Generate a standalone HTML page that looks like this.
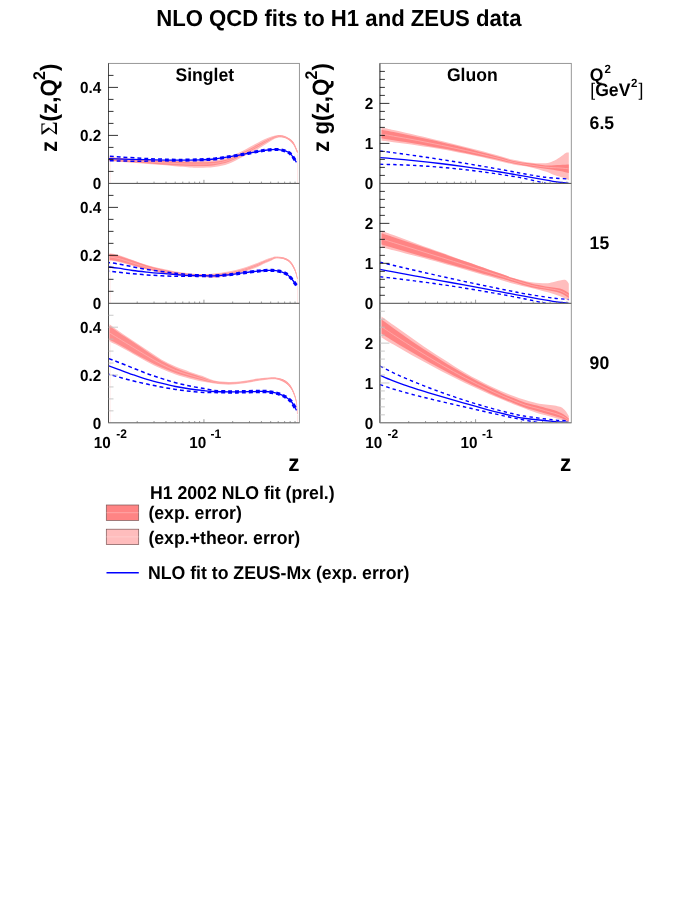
<!DOCTYPE html>
<html><head><meta charset="utf-8"><title>NLO QCD fits</title>
<style>
html,body{margin:0;padding:0;background:#fff;}
body{width:698px;height:903px;position:relative;overflow:hidden;font-family:"Liberation Sans",sans-serif;}
.t{position:absolute;white-space:nowrap;font-weight:bold;color:#000;line-height:1;font-family:"Liberation Sans",sans-serif;}
</style></head><body>
<svg width="698" height="903" viewBox="0 0 698 903" style="position:absolute;left:0;top:0">
<defs>
<clipPath id="cl0"><rect x="108.50" y="63.40" width="190.90" height="120.00"/></clipPath>
<clipPath id="cr0"><rect x="379.90" y="63.40" width="191.40" height="120.00"/></clipPath>
<clipPath id="cl1"><rect x="108.50" y="183.40" width="190.90" height="119.90"/></clipPath>
<clipPath id="cr1"><rect x="379.90" y="183.40" width="191.40" height="119.90"/></clipPath>
<clipPath id="cl2"><rect x="108.50" y="303.30" width="190.90" height="119.50"/></clipPath>
<clipPath id="cr2"><rect x="379.90" y="303.30" width="191.40" height="119.50"/></clipPath>
</defs>
<g clip-path="url(#cl0)">
<path d="M109.50 157.20C112.08 157.38 119.92 157.95 125.00 158.30C130.08 158.65 135.00 159.02 140.00 159.30C145.00 159.58 150.00 159.80 155.00 160.00C160.00 160.20 165.00 160.37 170.00 160.50C175.00 160.63 180.00 160.78 185.00 160.80C190.00 160.82 195.12 160.72 200.00 160.60C204.88 160.48 209.52 160.67 214.30 160.10C219.08 159.53 223.92 158.75 228.70 157.20C233.48 155.65 238.23 153.18 243.00 150.80C247.77 148.42 253.72 144.82 257.30 142.90C260.88 140.98 262.12 140.37 264.50 139.30C266.88 138.23 269.22 137.22 271.60 136.50C273.98 135.78 276.40 135.00 278.80 135.00C281.20 135.00 283.63 135.42 286.00 136.50C288.37 137.58 291.08 139.12 293.00 141.50C294.92 143.88 296.75 149.25 297.50 150.80L297.50 153.60C296.75 152.05 294.92 146.80 293.00 144.30C291.08 141.80 288.37 139.72 286.00 138.60C283.63 137.48 281.20 137.28 278.80 137.60C276.40 137.92 273.98 139.27 271.60 140.50C269.22 141.73 266.88 143.52 264.50 145.00C262.12 146.48 260.88 147.43 257.30 149.40C253.72 151.37 247.77 154.42 243.00 156.80C238.23 159.18 233.48 162.00 228.70 163.70C223.92 165.40 219.08 166.33 214.30 167.00C209.52 167.67 204.05 167.62 200.00 167.70C195.95 167.78 195.00 167.82 190.00 167.50C185.00 167.18 175.83 166.28 170.00 165.80C164.17 165.32 160.00 165.03 155.00 164.60C150.00 164.17 145.00 163.60 140.00 163.20C135.00 162.80 130.08 162.53 125.00 162.20C119.92 161.87 112.08 161.37 109.50 161.20Z" fill="#ffbdbd"/>
<path d="M109.50 157.60C112.08 157.78 119.92 158.34 125.00 158.69C130.08 159.04 135.00 159.37 140.00 159.69C145.00 160.01 150.00 160.33 155.00 160.61C160.00 160.88 165.00 161.13 170.00 161.37C175.00 161.60 180.00 161.88 185.00 162.02C190.00 162.16 195.12 162.23 200.00 162.21C204.88 162.18 209.52 162.40 214.30 161.87C219.08 161.35 223.92 160.62 228.70 159.07C233.48 157.51 238.23 154.92 243.00 152.54C247.77 150.16 253.72 146.72 257.30 144.78C260.88 142.85 262.12 142.14 264.50 140.95C266.88 139.77 269.22 138.56 271.60 137.66C273.98 136.76 276.40 135.70 278.80 135.55C281.20 135.40 283.63 135.71 286.00 136.76C288.37 137.81 291.08 139.45 293.00 141.85C294.92 144.25 296.75 149.60 297.50 151.15L297.50 153.25C296.75 151.70 294.92 146.44 293.00 143.95C291.08 141.46 288.37 139.49 286.00 138.34C283.63 137.19 281.20 136.89 278.80 137.05C276.40 137.22 273.98 138.29 271.60 139.34C269.22 140.39 266.88 141.98 264.50 143.35C262.12 144.71 260.88 145.56 257.30 147.52C253.72 149.47 247.77 152.67 243.00 155.06C238.23 157.45 233.48 160.14 228.70 161.83C223.92 163.53 219.08 164.52 214.30 165.23C209.52 165.94 204.88 165.99 200.00 166.09C195.12 166.19 190.00 166.04 185.00 165.85C180.00 165.66 175.00 165.24 170.00 164.93C165.00 164.62 160.00 164.35 155.00 163.99C150.00 163.64 145.00 163.17 140.00 162.81C135.00 162.45 130.08 162.15 125.00 161.81C119.92 161.47 112.08 160.97 109.50 160.80Z" fill="#ff8c8c"/>
<path d="M109.50 159.20C112.08 159.38 119.92 159.91 125.00 160.25C130.08 160.59 135.00 160.91 140.00 161.25C145.00 161.59 150.00 161.98 155.00 162.30C160.00 162.62 165.00 162.88 170.00 163.15C175.00 163.42 180.00 163.77 185.00 163.94C190.00 164.10 195.12 164.21 200.00 164.15C204.88 164.09 209.52 164.17 214.30 163.55C219.08 162.93 223.92 162.07 228.70 160.45C233.48 158.82 238.23 156.18 243.00 153.80C247.77 151.42 253.72 148.09 257.30 146.15C260.88 144.21 262.12 143.43 264.50 142.15C266.88 140.88 269.22 139.47 271.60 138.50C273.98 137.53 276.40 136.46 278.80 136.30C281.20 136.14 283.63 136.45 286.00 137.55C288.37 138.65 291.08 140.46 293.00 142.90C294.92 145.34 296.75 150.65 297.50 152.20" fill="none" stroke="#ffb4b4" stroke-width="0.7"/>
<path d="M297.50 153.60 L297.50 183.40" stroke="#ffe2e2" stroke-width="0.8" fill="none"/>
<path d="M110.20 161.20 L110.20 183.40" stroke="#ffe8e8" stroke-width="0.8" fill="none"/>
<path d="M165.00 159.22C162.50 159.13 155.00 158.92 150.00 158.70C145.00 158.48 140.00 158.20 135.00 157.90C130.00 157.60 124.50 157.22 120.00 156.90C115.50 156.58 110.00 156.15 108.00 156.00" fill="none" stroke="#0000ff" stroke-width="1.5" stroke-dasharray="3.9 3.0" stroke-dashoffset="3.9"/>
<path d="M165.00 160.82C162.50 160.87 155.00 161.04 150.00 161.10C145.00 161.16 140.00 161.22 135.00 161.20C130.00 161.18 124.50 161.08 120.00 161.00C115.50 160.92 110.00 160.75 108.00 160.70" fill="none" stroke="#0000ff" stroke-width="1.5" stroke-dasharray="3.9 3.0" stroke-dashoffset="3.9"/>
<path d="M165.00 160.02C167.50 160.05 174.17 160.24 180.00 160.20C185.83 160.16 194.28 160.00 200.00 159.80C205.72 159.60 209.52 159.50 214.30 159.00C219.08 158.50 223.92 157.57 228.70 156.80C233.48 156.03 238.23 155.28 243.00 154.40C247.77 153.52 253.72 152.17 257.30 151.50C260.88 150.83 262.12 150.72 264.50 150.40C266.88 150.08 269.22 149.73 271.60 149.60C273.98 149.47 276.40 149.33 278.80 149.60C281.20 149.87 283.97 150.40 286.00 151.20C288.03 152.00 289.27 152.55 291.00 154.40C292.73 156.25 295.50 160.98 296.40 162.30" fill="none" stroke="#0000ff" stroke-width="3.1" stroke-dasharray="3.9 3.0"/>
<path d="M108.00 158.70C111.67 158.80 122.17 159.10 130.00 159.30C137.83 159.50 146.67 159.75 155.00 159.90C163.33 160.05 172.50 160.22 180.00 160.20C187.50 160.18 194.28 160.00 200.00 159.80C205.72 159.60 209.52 159.50 214.30 159.00C219.08 158.50 223.92 157.57 228.70 156.80C233.48 156.03 238.23 155.28 243.00 154.40C247.77 153.52 253.72 152.17 257.30 151.50C260.88 150.83 262.12 150.72 264.50 150.40C266.88 150.08 269.22 149.73 271.60 149.60C273.98 149.47 276.40 149.33 278.80 149.60C281.20 149.87 283.97 150.40 286.00 151.20C288.03 152.00 289.27 152.55 291.00 154.40C292.73 156.25 295.50 160.98 296.40 162.30" fill="none" stroke="#0000ff" stroke-width="1.3"/>
</g>
<g clip-path="url(#cl1)">
<path d="M109.50 253.30C110.97 253.58 114.43 253.88 118.30 255.00C122.17 256.12 127.92 258.32 132.70 260.00C137.48 261.68 142.23 263.67 147.00 265.10C151.77 266.53 156.53 267.53 161.30 268.60C166.07 269.67 170.82 270.70 175.60 271.50C180.38 272.30 185.27 272.98 190.00 273.40C194.73 273.82 199.95 274.00 204.00 274.00C208.05 274.00 210.18 273.82 214.30 273.40C218.42 272.98 223.92 272.42 228.70 271.50C233.48 270.58 238.23 269.33 243.00 267.90C247.77 266.47 253.72 264.22 257.30 262.90C260.88 261.58 262.12 260.88 264.50 260.00C266.88 259.12 269.68 258.18 271.60 257.60C273.52 257.02 274.10 256.57 276.00 256.50C277.90 256.43 280.67 256.48 283.00 257.20C285.33 257.92 288.00 258.90 290.00 260.80C292.00 262.70 293.75 265.73 295.00 268.60C296.25 271.47 297.08 276.43 297.50 278.00L297.50 280.00C297.08 278.58 296.25 274.35 295.00 271.50C293.75 268.65 292.00 264.98 290.00 262.90C288.00 260.82 285.33 259.72 283.00 259.00C280.67 258.28 277.90 258.35 276.00 258.60C274.10 258.85 273.52 259.67 271.60 260.50C269.68 261.33 266.88 262.48 264.50 263.60C262.12 264.72 260.88 265.77 257.30 267.20C253.72 268.63 247.77 270.77 243.00 272.20C238.23 273.63 233.48 274.88 228.70 275.80C223.92 276.72 218.42 277.47 214.30 277.70C210.18 277.93 208.05 277.35 204.00 277.20C199.95 277.05 194.73 277.15 190.00 276.80C185.27 276.45 180.38 275.75 175.60 275.10C170.82 274.45 166.07 273.82 161.30 272.90C156.53 271.98 151.77 270.78 147.00 269.60C142.23 268.42 137.48 267.08 132.70 265.80C127.92 264.52 122.17 262.73 118.30 261.90C114.43 261.07 110.97 260.98 109.50 260.80Z" fill="#ffbdbd"/>
<path d="M109.50 254.05C110.97 254.32 114.43 254.60 118.30 255.69C122.17 256.78 127.92 258.93 132.70 260.58C137.48 262.23 142.23 264.18 147.00 265.62C151.77 267.06 156.53 268.14 161.30 269.22C166.07 270.31 170.82 271.32 175.60 272.13C180.38 272.94 185.27 273.66 190.00 274.10C194.73 274.54 199.95 274.68 204.00 274.75C208.05 274.82 210.18 274.84 214.30 274.50C218.42 274.17 223.92 273.63 228.70 272.74C233.48 271.84 238.23 270.58 243.00 269.15C247.77 267.72 253.72 265.50 257.30 264.15C260.88 262.80 262.12 261.99 264.50 261.04C266.88 260.09 269.68 259.11 271.60 258.44C273.52 257.77 274.10 257.17 276.00 257.01C277.90 256.85 280.67 256.81 283.00 257.49C285.33 258.16 288.00 259.15 290.00 261.06C292.00 262.97 293.75 266.10 295.00 268.96C296.25 271.83 297.08 276.70 297.50 278.25L297.50 279.75C297.08 278.31 296.25 273.99 295.00 271.14C293.75 268.29 292.00 264.71 290.00 262.64C288.00 260.57 285.33 259.47 283.00 258.71C280.67 257.95 277.90 257.93 276.00 258.09C274.10 258.25 273.52 258.91 271.60 259.66C269.68 260.40 266.88 261.51 264.50 262.56C262.12 263.61 260.88 264.55 257.30 265.95C253.72 267.35 247.77 269.52 243.00 270.95C238.23 272.39 233.48 273.62 228.70 274.56C223.92 275.51 218.42 276.28 214.30 276.60C210.18 276.91 208.05 276.53 204.00 276.45C199.95 276.37 194.73 276.43 190.00 276.10C185.27 275.77 180.38 275.11 175.60 274.47C170.82 273.83 166.07 273.17 161.30 272.28C156.53 271.38 151.77 270.26 147.00 269.08C142.23 267.91 137.48 266.53 132.70 265.22C127.92 263.91 122.17 262.07 118.30 261.21C114.43 260.35 110.97 260.24 109.50 260.05Z" fill="#ff8c8c"/>
<path d="M109.50 257.05C110.97 257.28 114.43 257.48 118.30 258.45C122.17 259.42 127.92 261.42 132.70 262.90C137.48 264.38 142.23 266.04 147.00 267.35C151.77 268.66 156.53 269.76 161.30 270.75C166.07 271.74 170.82 272.57 175.60 273.30C180.38 274.03 185.27 274.72 190.00 275.10C194.73 275.48 199.95 275.53 204.00 275.60C208.05 275.68 210.18 275.87 214.30 275.55C218.42 275.22 223.92 274.57 228.70 273.65C233.48 272.73 238.23 271.48 243.00 270.05C247.77 268.62 253.72 266.42 257.30 265.05C260.88 263.67 262.12 262.80 264.50 261.80C266.88 260.80 269.68 259.76 271.60 259.05C273.52 258.34 274.10 257.71 276.00 257.55C277.90 257.39 280.67 257.38 283.00 258.10C285.33 258.82 288.00 259.86 290.00 261.85C292.00 263.84 293.75 267.19 295.00 270.05C296.25 272.91 297.08 277.51 297.50 279.00" fill="none" stroke="#ffb4b4" stroke-width="0.7"/>
<path d="M297.50 280.00 L297.50 303.30" stroke="#ffe2e2" stroke-width="0.8" fill="none"/>
<path d="M110.20 260.80 L110.20 303.30" stroke="#ffe8e8" stroke-width="0.8" fill="none"/>
<path d="M188.00 274.51C185.93 274.29 180.05 273.72 175.60 273.20C171.15 272.68 166.07 272.03 161.30 271.40C156.53 270.77 151.77 270.17 147.00 269.40C142.23 268.63 137.48 267.72 132.70 266.80C127.92 265.88 122.42 264.62 118.30 263.90C114.18 263.18 109.72 262.73 108.00 262.50" fill="none" stroke="#0000ff" stroke-width="1.5" stroke-dasharray="3.9 3.0" stroke-dashoffset="3.9"/>
<path d="M188.00 276.21C185.93 276.23 180.05 276.37 175.60 276.30C171.15 276.23 166.07 276.03 161.30 275.80C156.53 275.57 151.77 275.25 147.00 274.90C142.23 274.55 137.48 274.15 132.70 273.70C127.92 273.25 122.42 272.63 118.30 272.20C114.18 271.77 109.72 271.28 108.00 271.10" fill="none" stroke="#0000ff" stroke-width="1.5" stroke-dasharray="3.9 3.0" stroke-dashoffset="3.9"/>
<path d="M188.00 275.36C190.67 275.42 199.62 275.63 204.00 275.70C208.38 275.77 210.18 275.95 214.30 275.80C218.42 275.65 223.92 275.28 228.70 274.80C233.48 274.32 238.23 273.52 243.00 272.90C247.77 272.28 253.72 271.50 257.30 271.10C260.88 270.70 262.12 270.62 264.50 270.50C266.88 270.38 269.22 270.30 271.60 270.40C273.98 270.50 276.40 270.55 278.80 271.10C281.20 271.65 283.97 272.55 286.00 273.70C288.03 274.85 289.25 276.05 291.00 278.00C292.75 279.95 295.58 284.17 296.50 285.40" fill="none" stroke="#0000ff" stroke-width="3.2" stroke-dasharray="3.9 3.0"/>
<path d="M108.00 266.80C109.72 267.03 114.18 267.58 118.30 268.20C122.42 268.82 127.92 269.85 132.70 270.50C137.48 271.15 142.23 271.62 147.00 272.10C151.77 272.58 156.53 273.00 161.30 273.40C166.07 273.80 170.82 274.15 175.60 274.50C180.38 274.85 185.27 275.30 190.00 275.50C194.73 275.70 199.95 275.65 204.00 275.70C208.05 275.75 210.18 275.95 214.30 275.80C218.42 275.65 223.92 275.28 228.70 274.80C233.48 274.32 238.23 273.52 243.00 272.90C247.77 272.28 253.72 271.50 257.30 271.10C260.88 270.70 262.12 270.62 264.50 270.50C266.88 270.38 269.22 270.30 271.60 270.40C273.98 270.50 276.40 270.55 278.80 271.10C281.20 271.65 283.97 272.55 286.00 273.70C288.03 274.85 289.25 276.05 291.00 278.00C292.75 279.95 295.58 284.17 296.50 285.40" fill="none" stroke="#0000ff" stroke-width="1.3"/>
</g>
<g clip-path="url(#cl2)">
<path d="M109.50 324.30C110.97 325.38 114.43 328.10 118.30 330.80C122.17 333.50 127.92 337.28 132.70 340.50C137.48 343.72 142.23 346.95 147.00 350.10C151.77 353.25 156.53 356.65 161.30 359.40C166.07 362.15 170.82 364.52 175.60 366.60C180.38 368.68 185.60 370.37 190.00 371.90C194.40 373.43 197.95 374.37 202.00 375.80C206.05 377.23 209.85 379.48 214.30 380.50C218.75 381.52 223.92 381.82 228.70 381.90C233.48 381.98 238.23 381.55 243.00 381.00C247.77 380.45 252.53 379.23 257.30 378.60C262.07 377.97 268.02 377.32 271.60 377.20C275.18 377.08 276.40 377.30 278.80 377.90C281.20 378.50 283.85 379.25 286.00 380.80C288.15 382.35 290.03 384.22 291.70 387.20C293.37 390.18 295.03 394.40 296.00 398.70C296.97 403.00 297.25 410.62 297.50 413.00L297.50 415.00C297.25 412.75 296.97 405.65 296.00 401.50C295.03 397.35 293.37 393.08 291.70 390.10C290.03 387.12 288.15 385.28 286.00 383.60C283.85 381.92 281.20 380.72 278.80 380.00C276.40 379.28 275.18 379.13 271.60 379.30C268.02 379.47 262.07 380.28 257.30 381.00C252.53 381.72 247.77 382.97 243.00 383.60C238.23 384.23 233.48 384.80 228.70 384.80C223.92 384.80 218.75 384.13 214.30 383.60C209.85 383.07 206.05 382.42 202.00 381.60C197.95 380.78 194.40 379.90 190.00 378.70C185.60 377.50 180.38 376.07 175.60 374.40C170.82 372.73 166.07 370.82 161.30 368.70C156.53 366.58 151.77 364.20 147.00 361.70C142.23 359.20 137.48 356.35 132.70 353.70C127.92 351.05 122.17 347.83 118.30 345.80C114.43 343.77 110.97 342.22 109.50 341.50Z" fill="#ffbdbd"/>
<path d="M109.50 326.02C110.97 327.07 114.43 329.67 118.30 332.30C122.17 334.93 127.92 338.63 132.70 341.82C137.48 345.01 142.23 348.28 147.00 351.43C151.77 354.59 156.53 357.99 161.30 360.75C166.07 363.50 170.82 365.87 175.60 367.97C180.38 370.06 185.60 371.77 190.00 373.30C194.40 374.83 197.95 375.81 202.00 377.14C206.05 378.47 209.85 380.36 214.30 381.30C218.75 382.23 223.92 382.66 228.70 382.73C233.48 382.81 238.23 382.33 243.00 381.75C247.77 381.18 252.53 379.95 257.30 379.30C262.07 378.64 268.02 377.97 271.60 377.81C275.18 377.65 276.40 377.78 278.80 378.34C281.20 378.90 283.85 379.61 286.00 381.15C288.15 382.69 290.03 384.58 291.70 387.56C293.37 390.55 295.03 394.77 296.00 399.05C296.97 403.33 297.25 410.88 297.50 413.25L297.50 414.75C297.25 412.48 296.97 405.32 296.00 401.15C295.03 396.98 293.37 392.72 291.70 389.74C290.03 386.75 288.15 384.95 286.00 383.25C283.85 381.55 281.20 380.32 278.80 379.56C276.40 378.80 275.18 378.57 271.60 378.69C268.02 378.82 262.07 379.61 257.30 380.30C252.53 381.00 247.77 382.24 243.00 382.85C238.23 383.46 233.48 383.97 228.70 383.97C223.92 383.96 218.75 383.42 214.30 382.80C209.85 382.19 206.05 381.18 202.00 380.26C197.95 379.34 194.40 378.51 190.00 377.30C185.60 376.10 180.38 374.69 175.60 373.03C170.82 371.38 166.07 369.46 161.30 367.35C156.53 365.24 151.77 362.86 147.00 360.37C142.23 357.87 137.48 355.06 132.70 352.38C127.92 349.70 122.17 346.40 118.30 344.30C114.43 342.20 110.97 340.53 109.50 339.78Z" fill="#ff8c8c"/>
<path d="M109.50 332.90C110.97 333.80 114.43 335.93 118.30 338.30C122.17 340.67 127.92 344.17 132.70 347.10C137.48 350.03 142.23 353.07 147.00 355.90C151.77 358.72 156.53 361.62 161.30 364.05C166.07 366.48 170.82 368.62 175.60 370.50C180.38 372.38 185.60 373.93 190.00 375.30C194.40 376.67 197.95 377.58 202.00 378.70C206.05 379.83 209.85 381.28 214.30 382.05C218.75 382.82 223.92 383.31 228.70 383.35C233.48 383.39 238.23 382.89 243.00 382.30C247.77 381.71 252.53 380.48 257.30 379.80C262.07 379.12 268.02 378.39 271.60 378.25C275.18 378.11 276.40 378.29 278.80 378.95C281.20 379.61 283.85 380.58 286.00 382.20C288.15 383.82 290.03 385.67 291.70 388.65C293.37 391.63 295.03 395.88 296.00 400.10C296.97 404.33 297.25 411.68 297.50 414.00" fill="none" stroke="#ffb4b4" stroke-width="0.7"/>
<path d="M297.50 415.00 L297.50 422.80" stroke="#ffe2e2" stroke-width="0.8" fill="none"/>
<path d="M110.20 341.50 L110.20 422.80" stroke="#ffe8e8" stroke-width="0.8" fill="none"/>
<path d="M214.30 390.50C212.58 390.18 208.05 389.33 204.00 388.60C199.95 387.87 194.73 387.08 190.00 386.10C185.27 385.12 180.38 383.98 175.60 382.70C170.82 381.42 166.07 379.92 161.30 378.40C156.53 376.88 151.77 375.35 147.00 373.60C142.23 371.85 137.48 369.80 132.70 367.90C127.92 366.00 122.42 363.80 118.30 362.20C114.18 360.60 109.72 358.95 108.00 358.30" fill="none" stroke="#0000ff" stroke-width="1.5" stroke-dasharray="3.9 3.0" stroke-dashoffset="3.9"/>
<path d="M214.30 392.50C212.58 392.48 208.05 392.60 204.00 392.40C199.95 392.20 194.73 391.80 190.00 391.30C185.27 390.80 180.38 390.12 175.60 389.40C170.82 388.68 166.07 387.88 161.30 387.00C156.53 386.12 151.77 385.13 147.00 384.10C142.23 383.07 137.48 382.00 132.70 380.80C127.92 379.60 122.42 378.02 118.30 376.90C114.18 375.78 109.72 374.57 108.00 374.10" fill="none" stroke="#0000ff" stroke-width="1.5" stroke-dasharray="3.9 3.0" stroke-dashoffset="3.9"/>
<path d="M214.30 391.50C216.70 391.57 223.92 391.85 228.70 391.90C233.48 391.95 238.23 391.87 243.00 391.80C247.77 391.73 253.72 391.55 257.30 391.50C260.88 391.45 262.12 391.38 264.50 391.50C266.88 391.62 269.22 391.80 271.60 392.20C273.98 392.60 276.40 393.07 278.80 393.90C281.20 394.73 283.85 395.85 286.00 397.20C288.15 398.55 289.95 399.80 291.70 402.00C293.45 404.20 295.70 409.00 296.50 410.40" fill="none" stroke="#0000ff" stroke-width="3.5" stroke-dasharray="3.9 3.0"/>
<path d="M108.00 365.50C109.72 366.13 114.18 367.78 118.30 369.30C122.42 370.82 127.92 372.92 132.70 374.60C137.48 376.28 142.23 377.97 147.00 379.40C151.77 380.83 156.53 382.02 161.30 383.20C166.07 384.38 170.82 385.53 175.60 386.50C180.38 387.47 185.27 388.32 190.00 389.00C194.73 389.68 199.95 390.18 204.00 390.60C208.05 391.02 210.18 391.28 214.30 391.50C218.42 391.72 223.92 391.85 228.70 391.90C233.48 391.95 238.23 391.87 243.00 391.80C247.77 391.73 253.72 391.55 257.30 391.50C260.88 391.45 262.12 391.38 264.50 391.50C266.88 391.62 269.22 391.80 271.60 392.20C273.98 392.60 276.40 393.07 278.80 393.90C281.20 394.73 283.85 395.85 286.00 397.20C288.15 398.55 289.95 399.80 291.70 402.00C293.45 404.20 295.70 409.00 296.50 410.40" fill="none" stroke="#0000ff" stroke-width="1.3"/>
</g>
<g clip-path="url(#cr0)">
<path d="M381.50 127.60C383.50 128.02 389.50 129.26 393.50 130.12C397.50 130.97 401.50 131.84 405.50 132.72C409.50 133.60 413.50 134.50 417.50 135.40C421.50 136.31 425.50 137.23 429.50 138.17C433.50 139.10 437.50 140.05 441.50 141.01C445.50 141.98 449.50 142.95 453.50 143.94C457.50 144.93 461.50 145.93 465.50 146.95C469.50 147.97 473.50 149.00 477.50 150.04C481.50 151.08 485.50 152.14 489.50 153.21C493.50 154.28 497.50 155.37 501.50 156.46C505.50 157.56 508.53 158.74 513.50 159.80C518.47 160.85 525.95 162.23 531.30 162.80C536.65 163.37 542.02 163.47 545.60 163.20C549.18 162.93 550.40 162.20 552.80 161.20C555.20 160.20 557.85 158.57 560.00 157.20C562.15 155.83 564.23 153.78 565.70 153.00C567.17 152.22 568.28 152.58 568.80 152.50L568.80 180.20C568.28 179.97 567.17 179.37 565.70 178.80C564.23 178.23 562.15 177.53 560.00 176.80C557.85 176.07 555.20 175.27 552.80 174.40C550.40 173.53 549.18 172.77 545.60 171.60C542.02 170.43 536.65 168.57 531.30 167.40C525.95 166.23 518.47 165.54 513.50 164.59C508.53 163.63 505.50 162.63 501.50 161.68C497.50 160.74 493.50 159.82 489.50 158.93C485.50 158.03 481.50 157.16 477.50 156.31C473.50 155.47 469.50 154.65 465.50 153.85C461.50 153.05 457.50 152.28 453.50 151.53C449.50 150.78 445.50 150.06 441.50 149.36C437.50 148.66 433.50 147.98 429.50 147.33C425.50 146.68 421.50 146.05 417.50 145.45C413.50 144.85 409.50 144.27 405.50 143.72C401.50 143.16 397.50 142.63 393.50 142.13C389.50 141.62 383.50 140.93 381.50 140.69Z" fill="#ffbdbd"/>
<path d="M381.50 129.73C383.50 130.11 389.50 131.23 393.50 132.01C397.50 132.80 401.50 133.60 405.50 134.41C409.50 135.23 413.50 136.07 417.50 136.92C421.50 137.78 425.50 138.65 429.50 139.54C433.50 140.44 437.50 141.35 441.50 142.28C445.50 143.20 449.50 144.15 453.50 145.12C457.50 146.08 461.50 147.07 465.50 148.07C469.50 149.07 473.50 150.10 477.50 151.14C481.50 152.17 485.50 153.23 489.50 154.31C493.50 155.39 497.50 156.48 501.50 157.60C505.50 158.71 508.53 159.99 513.50 160.99C518.47 161.99 525.95 162.87 531.30 163.60C536.65 164.33 540.82 165.17 545.60 165.40C550.38 165.63 556.13 165.15 560.00 165.00C563.87 164.85 567.33 164.58 568.80 164.50L568.80 173.10C567.33 172.75 563.87 171.72 560.00 171.00C556.13 170.28 550.38 169.52 545.60 168.80C540.82 168.08 536.65 167.59 531.30 166.70C525.95 165.81 518.47 164.45 513.50 163.44C508.53 162.44 505.50 161.59 501.50 160.68C497.50 159.78 493.50 158.89 489.50 158.01C485.50 157.14 481.50 156.29 477.50 155.45C473.50 154.61 469.50 153.79 465.50 152.98C461.50 152.17 457.50 151.38 453.50 150.61C449.50 149.84 445.50 149.08 441.50 148.34C437.50 147.60 433.50 146.88 429.50 146.17C425.50 145.46 421.50 144.77 417.50 144.10C413.50 143.42 409.50 142.76 405.50 142.12C401.50 141.48 397.50 140.85 393.50 140.25C389.50 139.64 383.50 138.77 381.50 138.47Z" fill="#ff8484"/>
<path d="M381.50 134.10C383.50 134.44 389.50 135.44 393.50 136.13C397.50 136.83 401.50 137.54 405.50 138.27C409.50 139.00 413.50 139.74 417.50 140.51C421.50 141.27 425.50 142.06 429.50 142.86C433.50 143.66 437.50 144.47 441.50 145.31C445.50 146.14 449.50 146.99 453.50 147.86C457.50 148.73 461.50 149.62 465.50 150.53C469.50 151.43 473.50 152.35 477.50 153.29C481.50 154.23 485.50 155.19 489.50 156.16C493.50 157.14 497.50 158.13 501.50 159.14C505.50 160.15 508.53 161.22 513.50 162.22C518.47 163.22 525.95 164.34 531.30 165.15C536.65 165.96 540.82 166.63 545.60 167.10C550.38 167.58 556.13 167.72 560.00 168.00C563.87 168.28 567.33 168.67 568.80 168.80" fill="none" stroke="#ffb4b4" stroke-width="0.7"/>
<path d="M380.00 150.93C382.00 151.19 388.00 151.96 392.00 152.49C396.00 153.02 400.00 153.56 404.00 154.11C408.00 154.66 412.00 155.22 416.00 155.79C420.00 156.36 424.00 156.94 428.00 157.54C432.00 158.13 436.00 158.73 440.00 159.35C444.00 159.96 448.00 160.59 452.00 161.22C456.00 161.86 460.00 162.50 464.00 163.16C468.00 163.81 472.00 164.48 476.00 165.16C480.00 165.83 484.00 166.52 488.00 167.22C492.00 167.92 496.00 168.63 500.00 169.35C504.00 170.06 508.00 170.79 512.00 171.53C516.00 172.27 518.40 172.83 524.00 173.79C529.60 174.75 538.18 176.43 545.60 177.30C553.02 178.17 564.68 178.72 568.50 179.00" fill="none" stroke="#0000ff" stroke-width="1.4" stroke-dasharray="3.4 3.2"/>
<path d="M380.00 164.28C382.00 164.32 388.00 164.43 392.00 164.54C396.00 164.65 400.00 164.80 404.00 164.97C408.00 165.14 412.00 165.33 416.00 165.56C420.00 165.78 424.00 166.03 428.00 166.31C432.00 166.59 436.00 166.90 440.00 167.24C444.00 167.57 448.00 167.93 452.00 168.32C456.00 168.71 460.00 169.13 464.00 169.57C468.00 170.02 472.00 170.49 476.00 170.99C480.00 171.49 484.00 172.02 488.00 172.57C492.00 173.13 496.00 173.71 500.00 174.32C504.00 174.93 508.00 175.57 512.00 176.23C516.00 176.90 518.33 177.12 524.00 178.31C529.67 179.50 542.33 182.55 546.00 183.40" fill="none" stroke="#0000ff" stroke-width="1.4" stroke-dasharray="3.4 3.2"/>
<path d="M380.00 157.57C382.00 157.74 388.00 158.21 392.00 158.56C396.00 158.90 400.00 159.27 404.00 159.65C408.00 160.03 412.00 160.42 416.00 160.83C420.00 161.25 424.00 161.68 428.00 162.12C432.00 162.57 436.00 163.03 440.00 163.51C444.00 164.00 448.00 164.49 452.00 165.01C456.00 165.52 460.00 166.05 464.00 166.60C468.00 167.15 472.00 167.71 476.00 168.30C480.00 168.88 484.00 169.48 488.00 170.09C492.00 170.71 496.00 171.34 500.00 171.99C504.00 172.64 508.00 173.31 512.00 173.99C516.00 174.67 517.20 174.87 524.00 176.09C530.80 177.31 545.38 180.12 552.80 181.30C560.22 182.48 565.88 182.88 568.50 183.20" fill="none" stroke="#0000ff" stroke-width="1.3"/>
</g>
<g clip-path="url(#cr1)">
<path d="M381.50 230.66C383.50 231.40 389.50 233.63 393.50 235.11C397.50 236.58 401.50 238.06 405.50 239.53C409.50 240.99 413.50 242.46 417.50 243.92C421.50 245.37 425.50 246.83 429.50 248.28C433.50 249.72 437.50 251.17 441.50 252.61C445.50 254.05 449.50 255.48 453.50 256.91C457.50 258.34 461.50 259.76 465.50 261.18C469.50 262.60 473.50 264.01 477.50 265.42C481.50 266.83 485.50 268.23 489.50 269.63C493.50 271.03 497.50 272.43 501.50 273.82C505.50 275.20 508.53 276.57 513.50 277.97C518.47 279.37 525.95 281.33 531.30 282.20C536.65 283.07 542.02 283.20 545.60 283.20C549.18 283.20 550.40 282.67 552.80 282.20C555.20 281.73 557.85 280.75 560.00 280.40C562.15 280.05 564.23 279.55 565.70 280.10C567.17 280.65 568.28 283.10 568.80 283.70L568.80 301.20C568.28 300.83 567.17 299.82 565.70 299.00C564.23 298.18 562.15 297.17 560.00 296.30C557.85 295.43 555.20 294.55 552.80 293.80C550.40 293.05 549.18 292.77 545.60 291.80C542.02 290.83 536.65 289.35 531.30 288.00C525.95 286.65 518.47 285.02 513.50 283.71C508.53 282.40 505.50 281.31 501.50 280.13C497.50 278.94 493.50 277.77 489.50 276.60C485.50 275.44 481.50 274.28 477.50 273.13C473.50 271.98 469.50 270.84 465.50 269.71C461.50 268.58 457.50 267.46 453.50 266.35C449.50 265.24 445.50 264.14 441.50 263.04C437.50 261.95 433.50 260.87 429.50 259.79C425.50 258.72 421.50 257.65 417.50 256.60C413.50 255.54 409.50 254.49 405.50 253.46C401.50 252.42 397.50 251.39 393.50 250.37C389.50 249.35 383.50 247.84 381.50 247.34Z" fill="#ffbdbd"/>
<path d="M381.50 233.31C383.50 233.97 389.50 235.94 393.50 237.26C397.50 238.59 401.50 239.92 405.50 241.25C409.50 242.58 413.50 243.92 417.50 245.26C421.50 246.60 425.50 247.95 429.50 249.30C433.50 250.65 437.50 252.00 441.50 253.36C445.50 254.72 449.50 256.08 453.50 257.45C457.50 258.82 461.50 260.19 465.50 261.57C469.50 262.95 473.50 264.33 477.50 265.72C481.50 267.10 485.50 268.50 489.50 269.89C493.50 271.29 497.50 272.69 501.50 274.09C505.50 275.50 508.53 276.73 513.50 278.32C518.47 279.90 525.95 282.25 531.30 283.60C536.65 284.95 540.82 285.57 545.60 286.40C550.38 287.23 556.13 287.50 560.00 288.60C563.87 289.70 567.33 292.27 568.80 293.00L568.80 298.00C567.33 297.17 563.87 294.37 560.00 293.00C556.13 291.63 550.38 290.77 545.60 289.80C540.82 288.83 536.65 288.51 531.30 287.20C525.95 285.89 518.47 283.37 513.50 281.94C508.53 280.51 505.50 279.73 501.50 278.62C497.50 277.51 493.50 276.40 489.50 275.29C485.50 274.17 481.50 273.05 477.50 271.93C473.50 270.81 469.50 269.69 465.50 268.57C461.50 267.44 457.50 266.31 453.50 265.18C449.50 264.05 445.50 262.91 441.50 261.77C437.50 260.64 433.50 259.50 429.50 258.35C425.50 257.21 421.50 256.06 417.50 254.91C413.50 253.77 409.50 252.61 405.50 251.46C401.50 250.30 397.50 249.15 393.50 247.98C389.50 246.82 383.50 245.08 381.50 244.49Z" fill="#ff8484"/>
<path d="M381.50 238.90C383.50 239.52 389.50 241.38 393.50 242.62C397.50 243.87 401.50 245.11 405.50 246.35C409.50 247.60 413.50 248.84 417.50 250.09C421.50 251.33 425.50 252.58 429.50 253.82C433.50 255.07 437.50 256.32 441.50 257.57C445.50 258.82 449.50 260.07 453.50 261.32C457.50 262.57 461.50 263.82 465.50 265.07C469.50 266.32 473.50 267.57 477.50 268.83C481.50 270.08 485.50 271.33 489.50 272.59C493.50 273.84 497.50 275.10 501.50 276.36C505.50 277.61 508.53 278.62 513.50 280.13C518.47 281.64 525.95 284.07 531.30 285.40C536.65 286.73 540.82 287.20 545.60 288.10C550.38 289.00 556.13 289.57 560.00 290.80C563.87 292.03 567.33 294.72 568.80 295.50" fill="none" stroke="#ffb4b4" stroke-width="0.7"/>
<path d="M380.00 262.14C382.00 262.62 388.00 264.07 392.00 265.02C396.00 265.98 400.00 266.92 404.00 267.86C408.00 268.80 412.00 269.73 416.00 270.65C420.00 271.57 424.00 272.49 428.00 273.39C432.00 274.30 436.00 275.20 440.00 276.09C444.00 276.98 448.00 277.86 452.00 278.73C456.00 279.61 460.00 280.47 464.00 281.33C468.00 282.19 472.00 283.04 476.00 283.88C480.00 284.72 484.00 285.56 488.00 286.38C492.00 287.21 496.00 288.03 500.00 288.84C504.00 289.65 508.00 290.45 512.00 291.24C516.00 292.04 517.20 292.48 524.00 293.60C530.80 294.73 545.38 297.03 552.80 298.00C560.22 298.97 565.88 299.17 568.50 299.40" fill="none" stroke="#0000ff" stroke-width="1.4" stroke-dasharray="3.4 3.2"/>
<path d="M380.00 276.80C382.00 277.02 388.00 277.67 392.00 278.13C396.00 278.59 400.00 279.07 404.00 279.56C408.00 280.05 412.00 280.55 416.00 281.07C420.00 281.59 424.00 282.13 428.00 282.68C432.00 283.23 436.00 283.79 440.00 284.37C444.00 284.95 448.00 285.54 452.00 286.15C456.00 286.76 460.00 287.38 464.00 288.02C468.00 288.66 472.00 289.32 476.00 289.98C480.00 290.65 484.00 291.34 488.00 292.03C492.00 292.73 496.00 293.45 500.00 294.17C504.00 294.90 508.00 295.65 512.00 296.40C516.00 297.16 518.33 297.56 524.00 298.72C529.67 299.89 542.33 302.62 546.00 303.40" fill="none" stroke="#0000ff" stroke-width="1.4" stroke-dasharray="3.4 3.2"/>
<path d="M380.00 269.48C382.00 269.85 388.00 270.95 392.00 271.69C396.00 272.42 400.00 273.16 404.00 273.90C408.00 274.63 412.00 275.37 416.00 276.11C420.00 276.85 424.00 277.58 428.00 278.32C432.00 279.06 436.00 279.80 440.00 280.54C444.00 281.28 448.00 282.02 452.00 282.76C456.00 283.50 460.00 284.24 464.00 284.98C468.00 285.72 472.00 286.46 476.00 287.21C480.00 287.95 484.00 288.69 488.00 289.43C492.00 290.17 496.00 290.92 500.00 291.66C504.00 292.40 508.00 293.15 512.00 293.89C516.00 294.64 517.20 294.89 524.00 296.13C530.80 297.36 545.38 300.12 552.80 301.30C560.22 302.48 565.88 302.88 568.50 303.20" fill="none" stroke="#0000ff" stroke-width="1.3"/>
</g>
<g clip-path="url(#cr2)">
<path d="M381.50 316.49C383.50 317.91 389.50 322.20 393.50 325.05C397.50 327.89 401.50 330.74 405.50 333.56C409.50 336.38 413.50 339.19 417.50 341.96C421.50 344.72 425.50 347.47 429.50 350.16C433.50 352.85 437.50 355.50 441.50 358.09C445.50 360.68 449.50 363.23 453.50 365.69C457.50 368.16 461.50 370.56 465.50 372.88C469.50 375.19 473.50 377.44 477.50 379.58C481.50 381.72 485.50 383.79 489.50 385.73C493.50 387.68 497.50 389.53 501.50 391.25C505.50 392.97 509.50 394.59 513.50 396.07C517.50 397.55 521.58 398.92 525.50 400.11C529.42 401.30 533.65 402.49 537.00 403.20C540.35 403.91 542.70 404.03 545.60 404.40C548.50 404.77 552.00 405.00 554.40 405.40C556.80 405.80 558.57 406.30 560.00 406.80C561.43 407.30 562.00 407.62 563.00 408.40C564.00 409.18 565.03 410.23 566.00 411.50C566.97 412.77 568.33 415.25 568.80 416.00L568.80 422.00C567.83 421.73 565.40 421.10 563.00 420.40C560.60 419.70 557.30 418.65 554.40 417.80C551.50 416.95 548.50 416.08 545.60 415.30C542.70 414.52 540.35 414.17 537.00 413.10C533.65 412.03 529.42 410.34 525.50 408.86C521.58 407.37 517.50 405.79 513.50 404.20C509.50 402.61 505.50 400.97 501.50 399.30C497.50 397.62 493.50 395.91 489.50 394.15C485.50 392.39 481.50 390.59 477.50 388.76C473.50 386.92 469.50 385.04 465.50 383.13C461.50 381.21 457.50 379.26 453.50 377.27C449.50 375.28 445.50 373.24 441.50 371.18C437.50 369.11 433.50 367.00 429.50 364.86C425.50 362.72 421.50 360.54 417.50 358.32C413.50 356.11 409.50 353.85 405.50 351.57C401.50 349.28 397.50 346.96 393.50 344.60C389.50 342.24 383.50 338.62 381.50 337.42Z" fill="#ffbdbd"/>
<path d="M381.50 319.61C383.50 321.05 389.50 325.41 393.50 328.26C397.50 331.11 401.50 333.93 405.50 336.71C409.50 339.48 413.50 342.22 417.50 344.91C421.50 347.60 425.50 350.25 429.50 352.85C433.50 355.44 437.50 357.99 441.50 360.48C445.50 362.97 449.50 365.41 453.50 367.78C457.50 370.16 461.50 372.47 465.50 374.72C469.50 376.96 473.50 379.14 477.50 381.25C481.50 383.35 485.50 385.39 489.50 387.35C493.50 389.30 497.50 391.19 501.50 392.98C505.50 394.78 509.50 396.50 513.50 398.12C517.50 399.74 521.58 401.48 525.50 402.73C529.42 403.97 533.65 404.72 537.00 405.60C540.35 406.48 542.70 407.22 545.60 408.00C548.50 408.78 551.50 409.30 554.40 410.30C557.30 411.30 560.60 412.63 563.00 414.00C565.40 415.37 567.83 417.75 568.80 418.50L568.80 421.50C567.83 421.03 565.40 419.60 563.00 418.70C560.60 417.80 557.30 416.97 554.40 416.10C551.50 415.23 548.50 414.35 545.60 413.50C542.70 412.65 540.35 411.97 537.00 411.00C533.65 410.03 529.42 408.97 525.50 407.65C521.58 406.33 517.50 404.66 513.50 403.07C509.50 401.49 505.50 399.85 501.50 398.15C497.50 396.46 493.50 394.71 489.50 392.91C485.50 391.11 481.50 389.25 477.50 387.35C473.50 385.46 469.50 383.50 465.50 381.51C461.50 379.52 457.50 377.47 453.50 375.39C449.50 373.31 445.50 371.18 441.50 369.01C437.50 366.85 433.50 364.64 429.50 362.39C425.50 360.15 421.50 357.87 417.50 355.55C413.50 353.23 409.50 350.88 405.50 348.49C401.50 346.11 397.50 343.69 393.50 341.25C389.50 338.80 383.50 335.06 381.50 333.82Z" fill="#ff8484"/>
<path d="M381.50 326.72C383.50 328.06 389.50 332.11 393.50 334.75C397.50 337.40 401.50 340.02 405.50 342.60C409.50 345.18 413.50 347.73 417.50 350.23C421.50 352.73 425.50 355.20 429.50 357.62C433.50 360.04 437.50 362.42 441.50 364.75C445.50 367.08 449.50 369.36 453.50 371.59C457.50 373.82 461.50 375.99 465.50 378.11C469.50 380.23 473.50 382.30 477.50 384.30C481.50 386.30 485.50 388.25 489.50 390.13C493.50 392.01 497.50 393.82 501.50 395.57C505.50 397.31 509.50 398.99 513.50 400.60C517.50 402.20 521.58 403.91 525.50 405.19C529.42 406.47 533.65 407.37 537.00 408.30C540.35 409.23 542.70 409.93 545.60 410.75C548.50 411.57 551.50 412.27 554.40 413.20C557.30 414.13 560.60 415.22 563.00 416.35C565.40 417.48 567.83 419.39 568.80 420.00" fill="none" stroke="#ffb4b4" stroke-width="0.7"/>
<path d="M380.00 366.20C382.00 367.19 388.00 370.26 392.00 372.17C396.00 374.08 400.00 375.88 404.00 377.64C408.00 379.39 412.00 381.07 416.00 382.70C420.00 384.33 424.00 385.90 428.00 387.42C432.00 388.95 436.00 390.43 440.00 391.87C444.00 393.31 448.00 394.71 452.00 396.07C456.00 397.44 460.00 398.77 464.00 400.06C468.00 401.35 472.00 402.60 476.00 403.82C480.00 405.03 484.00 406.21 488.00 407.34C492.00 408.47 496.00 409.57 500.00 410.60C504.00 411.62 508.00 412.61 512.00 413.52C516.00 414.43 517.20 415.00 524.00 416.05C530.80 417.09 545.38 419.01 552.80 419.80C560.22 420.59 565.88 420.63 568.50 420.80" fill="none" stroke="#0000ff" stroke-width="1.4" stroke-dasharray="3.4 3.2"/>
<path d="M380.00 384.65C382.00 385.31 388.00 387.38 392.00 388.63C396.00 389.88 400.00 391.03 404.00 392.16C408.00 393.28 412.00 394.33 416.00 395.37C420.00 396.40 424.00 397.39 428.00 398.36C432.00 399.34 436.00 400.29 440.00 401.23C444.00 402.18 448.00 403.10 452.00 404.03C456.00 404.96 460.00 405.88 464.00 406.80C468.00 407.72 472.00 408.65 476.00 409.56C480.00 410.48 484.00 411.40 488.00 412.31C492.00 413.21 496.00 414.12 500.00 415.01C504.00 415.89 508.00 416.77 512.00 417.61C516.00 418.46 519.17 419.16 524.00 420.06C528.83 420.95 538.17 422.51 541.00 423.00" fill="none" stroke="#0000ff" stroke-width="1.4" stroke-dasharray="3.4 3.2"/>
<path d="M380.00 375.25C382.00 376.12 388.00 378.82 392.00 380.43C396.00 382.03 400.00 383.49 404.00 384.90C408.00 386.31 412.00 387.61 416.00 388.90C420.00 390.18 424.00 391.39 428.00 392.60C432.00 393.81 436.00 394.98 440.00 396.14C444.00 397.31 448.00 398.46 452.00 399.61C456.00 400.76 460.00 401.91 464.00 403.05C468.00 404.19 472.00 405.34 476.00 406.46C480.00 407.59 484.00 408.71 488.00 409.80C492.00 410.89 496.00 411.97 500.00 412.98C504.00 413.98 508.00 414.97 512.00 415.85C516.00 416.74 517.20 417.34 524.00 418.26C530.80 419.18 545.38 420.71 552.80 421.40C560.22 422.09 565.88 422.23 568.50 422.40" fill="none" stroke="#0000ff" stroke-width="1.3"/>
</g>
<g stroke="#8c8c8c" stroke-width="0.9" fill="none">
<rect x="108.50" y="63.40" width="190.90" height="359.40"/>
</g>
<path d="M108.50 63.40V422.80" stroke="#444" stroke-width="0.9" fill="none"/>
<path d="M108.50 183.40 H299.40" stroke="#4a4a4a" stroke-width="1" fill="none"/>
<path d="M108.50 303.30 H299.40" stroke="#4a4a4a" stroke-width="1" fill="none"/>
<path d="M108.50 422.80 H299.40" stroke="#7c7c7c" stroke-width="1.1" fill="none"/>
<g stroke="#8c8c8c" stroke-width="0.9" fill="none">
<rect x="379.90" y="63.40" width="191.40" height="359.40"/>
</g>
<path d="M379.90 63.40V422.80" stroke="#444" stroke-width="0.9" fill="none"/>
<path d="M379.90 183.40 H571.30" stroke="#4a4a4a" stroke-width="1" fill="none"/>
<path d="M379.90 303.30 H571.30" stroke="#4a4a4a" stroke-width="1" fill="none"/>
<path d="M379.90 422.80 H571.30" stroke="#7c7c7c" stroke-width="1.1" fill="none"/>
<path d="M108.50 171.40h5.0M108.50 159.40h5.0M108.50 147.40h5.0M108.50 135.40h9.5M108.50 123.40h5.0M108.50 111.40h5.0M108.50 99.40h5.0M108.50 87.40h9.5M108.50 75.40h5.0" stroke="#000" stroke-width="0.8" fill="none"/>
<path d="M379.90 175.40h5.0M379.90 167.40h5.0M379.90 159.40h5.0M379.90 151.40h5.0M379.90 143.40h9.5M379.90 135.40h5.0M379.90 127.40h5.0M379.90 119.40h5.0M379.90 111.40h5.0M379.90 103.40h9.5M379.90 95.40h5.0M379.90 87.40h5.0M379.90 79.40h5.0M379.90 71.40h5.0" stroke="#000" stroke-width="0.8" fill="none"/>
<path d="M108.50 291.31h5.0M108.50 279.32h5.0M108.50 267.33h5.0M108.50 255.34h9.5M108.50 243.35h5.0M108.50 231.36h5.0M108.50 219.37h5.0M108.50 207.38h9.5M108.50 195.39h5.0" stroke="#000" stroke-width="0.8" fill="none"/>
<path d="M379.90 295.31h5.0M379.90 287.31h5.0M379.90 279.32h5.0M379.90 271.33h5.0M379.90 263.33h9.5M379.90 255.34h5.0M379.90 247.35h5.0M379.90 239.35h5.0M379.90 231.36h5.0M379.90 223.37h9.5M379.90 215.37h5.0M379.90 207.38h5.0M379.90 199.39h5.0M379.90 191.39h5.0" stroke="#000" stroke-width="0.8" fill="none"/>
<path d="M108.50 410.85h5.0M108.50 398.90h5.0M108.50 386.95h5.0M108.50 375.00h9.5M108.50 363.05h5.0M108.50 351.10h5.0M108.50 339.15h5.0M108.50 327.20h9.5M108.50 315.25h5.0" stroke="#bbb" stroke-width="0.8" fill="none"/>
<path d="M379.90 414.83h5.0M379.90 406.87h5.0M379.90 398.90h5.0M379.90 390.93h5.0M379.90 382.97h9.5M379.90 375.00h5.0M379.90 367.03h5.0M379.90 359.07h5.0M379.90 351.10h5.0M379.90 343.13h9.5M379.90 335.17h5.0M379.90 327.20h5.0M379.90 319.23h5.0M379.90 311.27h5.0" stroke="#bbb" stroke-width="0.8" fill="none"/>
<path d="M137.23 183.40v-1.8M154.04 183.40v-1.8M165.97 183.40v-1.8M175.22 183.40v-1.8M182.77 183.40v-1.8M189.16 183.40v-1.8M194.70 183.40v-1.8M199.58 183.40v-1.8M203.95 183.40v-3.6M232.68 183.40v-1.8M249.49 183.40v-1.8M261.42 183.40v-1.8M270.67 183.40v-1.8M278.22 183.40v-1.8M284.61 183.40v-1.8M290.15 183.40v-1.8M295.03 183.40v-1.8" stroke="#707070" stroke-width="0.7" fill="none"/>
<path d="M408.71 183.40v-1.8M425.56 183.40v-1.8M437.52 183.40v-1.8M446.79 183.40v-1.8M454.37 183.40v-1.8M460.78 183.40v-1.8M466.33 183.40v-1.8M471.22 183.40v-1.8M475.60 183.40v-3.6M504.41 183.40v-1.8M521.26 183.40v-1.8M533.22 183.40v-1.8M542.49 183.40v-1.8M550.07 183.40v-1.8M556.48 183.40v-1.8M562.03 183.40v-1.8M566.92 183.40v-1.8" stroke="#707070" stroke-width="0.7" fill="none"/>
<path d="M137.23 303.30v-1.8M154.04 303.30v-1.8M165.97 303.30v-1.8M175.22 303.30v-1.8M182.77 303.30v-1.8M189.16 303.30v-1.8M194.70 303.30v-1.8M199.58 303.30v-1.8M203.95 303.30v-3.6M232.68 303.30v-1.8M249.49 303.30v-1.8M261.42 303.30v-1.8M270.67 303.30v-1.8M278.22 303.30v-1.8M284.61 303.30v-1.8M290.15 303.30v-1.8M295.03 303.30v-1.8" stroke="#707070" stroke-width="0.7" fill="none"/>
<path d="M408.71 303.30v-1.8M425.56 303.30v-1.8M437.52 303.30v-1.8M446.79 303.30v-1.8M454.37 303.30v-1.8M460.78 303.30v-1.8M466.33 303.30v-1.8M471.22 303.30v-1.8M475.60 303.30v-3.6M504.41 303.30v-1.8M521.26 303.30v-1.8M533.22 303.30v-1.8M542.49 303.30v-1.8M550.07 303.30v-1.8M556.48 303.30v-1.8M562.03 303.30v-1.8M566.92 303.30v-1.8" stroke="#707070" stroke-width="0.7" fill="none"/>
<path d="M137.23 422.80v-1.8M154.04 422.80v-1.8M165.97 422.80v-1.8M175.22 422.80v-1.8M182.77 422.80v-1.8M189.16 422.80v-1.8M194.70 422.80v-1.8M199.58 422.80v-1.8M203.95 422.80v-3.6M232.68 422.80v-1.8M249.49 422.80v-1.8M261.42 422.80v-1.8M270.67 422.80v-1.8M278.22 422.80v-1.8M284.61 422.80v-1.8M290.15 422.80v-1.8M295.03 422.80v-1.8" stroke="#707070" stroke-width="0.7" fill="none"/>
<path d="M408.71 422.80v-1.8M425.56 422.80v-1.8M437.52 422.80v-1.8M446.79 422.80v-1.8M454.37 422.80v-1.8M460.78 422.80v-1.8M466.33 422.80v-1.8M471.22 422.80v-1.8M475.60 422.80v-3.6M504.41 422.80v-1.8M521.26 422.80v-1.8M533.22 422.80v-1.8M542.49 422.80v-1.8M550.07 422.80v-1.8M556.48 422.80v-1.8M562.03 422.80v-1.8M566.92 422.80v-1.8" stroke="#707070" stroke-width="0.7" fill="none"/>
<rect x="106.3" y="505" width="32.4" height="15.4" fill="#ff8484" stroke="#7a5555" stroke-width="0.7"/>
<path d="M106.5 512.7H138.5" stroke="#ffb4b4" stroke-width="0.7"/>
<rect x="106.3" y="529.2" width="32.4" height="15.4" fill="#ffbdbd" stroke="#7a5555" stroke-width="0.7"/>
<path d="M106.5 536.9H138.5" stroke="#ffd2d2" stroke-width="0.7"/>
<path d="M106.5 572.7H138.8" stroke="#0000ff" stroke-width="1.4"/>
</svg>
<div id="txt" style="position:absolute;left:0;top:0;width:698px;height:903px;will-change:transform;transform:translateZ(0);text-rendering:geometricPrecision">
<div class="t" style="left:338.9px;transform:translate(-50%,0.00px) scaleY(1.043);top:8px;font-size:22.15px;transform-origin:0 18.74px;">NLO QCD fits to H1 and ZEUS data</div>
<div class="t" style="right:596.7px;transform:translateY(0.00px) scaleY(1.043);top:177px;font-size:15.30px;transform-origin:0 12.94px;">0</div>
<div class="t" style="right:596.7px;transform:translateY(0.00px) scaleY(1.043);top:129px;font-size:15.30px;transform-origin:0 12.94px;">0.2</div>
<div class="t" style="right:596.7px;transform:translateY(0.00px) scaleY(1.043);top:81px;font-size:15.30px;transform-origin:0 12.94px;">0.4</div>
<div class="t" style="right:324.8px;transform:translateY(0.00px) scaleY(1.043);top:177px;font-size:15.30px;transform-origin:0 12.94px;">0</div>
<div class="t" style="right:324.8px;transform:translateY(0.00px) scaleY(1.043);top:137px;font-size:15.30px;transform-origin:0 12.94px;">1</div>
<div class="t" style="right:324.8px;transform:translateY(0.00px) scaleY(1.043);top:97px;font-size:15.30px;transform-origin:0 12.94px;">2</div>
<div class="t" style="right:596.7px;transform:translateY(0.00px) scaleY(1.043);top:297px;font-size:15.30px;transform-origin:0 12.94px;">0</div>
<div class="t" style="right:596.7px;transform:translateY(0.00px) scaleY(1.043);top:249px;font-size:15.30px;transform-origin:0 12.94px;">0.2</div>
<div class="t" style="right:596.7px;transform:translateY(0.00px) scaleY(1.043);top:201px;font-size:15.30px;transform-origin:0 12.94px;">0.4</div>
<div class="t" style="right:324.8px;transform:translateY(0.00px) scaleY(1.043);top:297px;font-size:15.30px;transform-origin:0 12.94px;">0</div>
<div class="t" style="right:324.8px;transform:translateY(0.00px) scaleY(1.043);top:257px;font-size:15.30px;transform-origin:0 12.94px;">1</div>
<div class="t" style="right:324.8px;transform:translateY(0.00px) scaleY(1.043);top:217px;font-size:15.30px;transform-origin:0 12.94px;">2</div>
<div class="t" style="right:596.7px;transform:translateY(0.00px) scaleY(1.043);top:417px;font-size:15.30px;transform-origin:0 12.94px;">0</div>
<div class="t" style="right:596.7px;transform:translateY(0.00px) scaleY(1.043);top:369px;font-size:15.30px;transform-origin:0 12.94px;">0.2</div>
<div class="t" style="right:596.7px;transform:translateY(0.00px) scaleY(1.043);top:321px;font-size:15.30px;transform-origin:0 12.94px;">0.4</div>
<div class="t" style="right:324.8px;transform:translateY(0.00px) scaleY(1.043);top:417px;font-size:15.30px;transform-origin:0 12.94px;">0</div>
<div class="t" style="right:324.8px;transform:translateY(0.00px) scaleY(1.043);top:377px;font-size:15.30px;transform-origin:0 12.94px;">1</div>
<div class="t" style="right:324.8px;transform:translateY(0.00px) scaleY(1.043);top:337px;font-size:15.30px;transform-origin:0 12.94px;">2</div>
<div class="t" style="right:587.2px;transform:translateY(0.00px) scaleY(1.043);top:436px;font-size:15.30px;transform-origin:0 12.94px;">10</div>
<div class="t" style="left:116.2px;transform:translateY(0.00px) scaleY(1.043);top:428px;font-size:12.00px;transform-origin:0 10.15px;">-2</div>
<div class="t" style="right:491.8px;transform:translateY(0.00px) scaleY(1.043);top:436px;font-size:15.30px;transform-origin:0 12.94px;">10</div>
<div class="t" style="left:210.6px;transform:translateY(0.00px) scaleY(1.043);top:428px;font-size:12.00px;transform-origin:0 10.15px;">-1</div>
<div class="t" style="right:315.8px;transform:translateY(0.00px) scaleY(1.043);top:436px;font-size:15.30px;transform-origin:0 12.94px;">10</div>
<div class="t" style="left:387.6px;transform:translateY(0.00px) scaleY(1.043);top:428px;font-size:12.00px;transform-origin:0 10.15px;">-2</div>
<div class="t" style="right:220.4px;transform:translateY(0.00px) scaleY(1.043);top:436px;font-size:15.30px;transform-origin:0 12.94px;">10</div>
<div class="t" style="left:482.0px;transform:translateY(0.00px) scaleY(1.043);top:428px;font-size:12.00px;transform-origin:0 10.15px;">-1</div>
<div class="t" style="right:398.6px;transform:translateY(0.00px) scaleY(1.043);top:453px;font-size:22.50px;transform-origin:0 19.04px;">z</div>
<div class="t" style="right:126.8px;transform:translateY(0.00px) scaleY(1.043);top:453px;font-size:22.50px;transform-origin:0 19.04px;">z</div>
<div class="t" style="left:204.8px;transform:translate(-50%,0.00px) scaleY(1.043);top:67px;font-size:17.60px;transform-origin:0 14.89px;">Singlet</div>
<div class="t" style="left:472.3px;transform:translate(-50%,0.00px) scaleY(1.043);top:67px;font-size:17.60px;transform-origin:0 14.89px;">Gluon</div>
<div class="t" style="left:589.8px;transform:translateY(0.00px) scaleY(1.043);top:67px;font-size:17.60px;transform-origin:0 14.89px;">Q<span style="font-size:11.5px;position:relative;top:-8px;left:1.0px">2</span></div>
<div class="t" style="left:590.3px;transform:translateY(0.00px) scaleY(1.043);top:82px;font-size:17.60px;transform-origin:0 14.89px;"><span style="font-weight:normal">[</span>GeV<span style="font-size:11.5px;position:relative;top:-9px;left:0.6px">2</span><span style="font-weight:normal;margin-left:1.8px">]</span></div>
<div class="t" style="left:589.6px;transform:translateY(0.00px) scaleY(1.043);top:115px;font-size:17.60px;transform-origin:0 14.89px;">6.5</div>
<div class="t" style="left:589.6px;transform:translateY(0.00px) scaleY(1.043);top:235px;font-size:17.60px;transform-origin:0 14.89px;">15</div>
<div class="t" style="left:589.6px;transform:translateY(0.00px) scaleY(1.043);top:355px;font-size:17.60px;transform-origin:0 14.89px;">90</div>
<div class="t" style="left:149.9px;transform:translateY(0.00px) scaleY(1.043);top:485px;font-size:17.70px;transform-origin:0 14.97px;">H1 2002 NLO fit (prel.)</div>
<div class="t" style="left:148.4px;transform:translateY(0.00px) scaleY(1.043);top:505px;font-size:17.70px;transform-origin:0 14.97px;">(exp. error)</div>
<div class="t" style="left:148.4px;transform:translateY(0.00px) scaleY(1.043);top:530px;font-size:17.70px;transform-origin:0 14.97px;">(exp.+theor. error)</div>
<div class="t" style="left:147.9px;transform:translateY(0.00px) scaleY(1.043);top:565px;font-size:17.70px;transform-origin:0 14.97px;">NLO fit to ZEUS-Mx (exp. error)</div>
<div class="t" style="left:57.90px;top:132.89px;font-size:22.35px;transform-origin:0 18.91px;transform:rotate(-90deg) scaleY(1.06)">z&nbsp;<span style="font-family:'Liberation Serif',serif;font-weight:normal;font-size:22.5px;display:inline-block;transform:scaleX(1.08);transform-origin:50% 50%">&Sigma;</span>(z,Q<span style="font-size:16px;position:relative;top:-11.2px;left:-0.9px;margin-right:-0.8px">2</span>)</div>
<div class="t" style="left:329.60px;top:132.89px;font-size:22.35px;transform-origin:0 18.91px;transform:rotate(-90deg) scaleY(1.06)">z&nbsp;g(z,Q<span style="font-size:16px;position:relative;top:-11.2px;left:-0.9px;margin-right:-0.8px">2</span>)</div>
</div>
</body></html>
